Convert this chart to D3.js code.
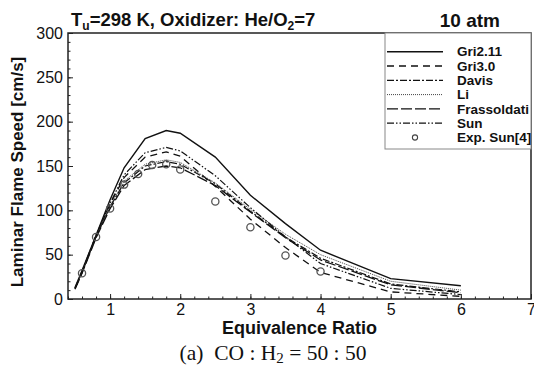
<!DOCTYPE html>
<html>
<head>
<meta charset="utf-8">
<script src="https://cdn.jsdelivr.net/npm/d3@7"></script>
<style>
  body { margin: 0; background: #fff; }
  svg { display: block; font-family: Arial, "Liberation Sans", sans-serif; }
</style>
</head>
<body>
<div id="chart"></div>
<script>
/* DATA */
const phi = [0.5, 0.6, 0.8, 1.0, 1.2, 1.5, 1.8, 2.0, 2.5, 3.0, 3.5, 4.0, 5.0, 6.0];
const gri211 = [13, 32, 72, 112, 148, 181, 190, 187, 160, 117, 85, 55, 23, 15];
const gri30 = [12, 30, 71, 107, 137, 160, 166, 161, 127, 90, 58, 30, 8, 3];
const davis = [12, 30, 70, 104, 131, 150, 155, 152, 130, 99, 70, 46, 17, 8];
const li = [12, 30, 70, 105, 133, 152, 157, 154, 131, 101, 73, 50, 20, 10];
const frassoldati = [11, 29, 69, 102, 128, 146, 150, 148, 128, 98, 69, 44, 16, 7];
const sun = [12, 31, 72, 108, 140, 165, 171, 167, 139, 103, 70, 40, 12, 5];
const expPhi = [0.6, 0.8, 1.0, 1.2, 1.4, 1.6, 1.8, 2.0, 2.5, 3.0, 3.5, 4.0];
const expSun = [29, 70, 102, 129, 141, 151, 152, 146, 110, 81, 49, 31];

const seriesNames = ["Gri2.11", "Gri3.0", "Davis", "Li", "Frassoldati", "Sun"];
const seriesValues = [gri211, gri30, davis, li, frassoldati, sun];
const xTicks = [1, 2, 3, 4, 5, 6, 7];
const yTicks = [0, 50, 100, 150, 200, 250, 300];

// line styles per model
const styles = [
  { dash: null, width: 1.4, color: "#111" },
  { dash: "7,5", width: 1.3, color: "#111" },
  { dash: "7,2,2,2", width: 1.2, color: "#111" },
  { dash: "1,1", width: 1.0, color: "#444" },
  { dash: "11,3", width: 1.3, color: "#111" },
  { dash: "7,2,1.5,2,1.5,2", width: 1.2, color: "#111" }
];

/* CONSTANTS */
const width = 534,
  height = 366,
  margin = { top: 33, right: 3, bottom: 67, left: 68 };

const svg = d3.select("#chart")
  .append("svg")
  .attr("width", width)
  .attr("height", height);

// SCALES
const xScale = d3.scaleLinear()
  .domain([0.4, 7])
  .range([margin.left, width - margin.right]);

const yScale = d3.scaleLinear()
  .domain([0, 300])
  .range([height - margin.bottom, margin.top]);

// AXES (ticks point inward)
const xMinor = d3.range(0.4, 7.01, 0.2).map(d => +d.toFixed(1));
const yMinor = d3.range(0, 301, 10);

svg.append("g")
  .attr("transform", `translate(0, ${height - margin.bottom})`)
  .call(d3.axisBottom(xScale).tickValues(xMinor).tickSize(-2.5).tickFormat(""))
  .call(g => g.select(".domain").remove());

svg.append("g")
  .attr("class", "xAxis")
  .attr("transform", `translate(0, ${height - margin.bottom})`)
  .call(d3.axisBottom(xScale).tickValues(xTicks).tickSize(-5).tickPadding(5).tickFormat(d3.format("d")))
  .call(g => g.select(".domain").remove());

svg.append("g")
  .attr("transform", `translate(${margin.left}, 0)`)
  .call(d3.axisLeft(yScale).tickValues(yMinor).tickSize(-2.5).tickFormat(""))
  .call(g => g.select(".domain").remove());

svg.append("g")
  .attr("class", "yAxis")
  .attr("transform", `translate(${margin.left}, 0)`)
  .call(d3.axisLeft(yScale).tickValues(yTicks).tickSize(-5).tickPadding(5))
  .call(g => g.select(".domain").remove());

svg.selectAll(".xAxis text, .yAxis text")
  .attr("font-size", 16)
  .attr("font-family", "Arial, 'Liberation Sans', sans-serif")
  .attr("fill", "#111");
svg.selectAll(".tick line").attr("stroke", "#222");

// LINES
const line = d3.line()
  .x((d, i) => xScale(phi[i]))
  .y(d => yScale(d));

svg.selectAll(".model")
  .data(seriesValues)
  .join("path")
  .attr("class", "model")
  .attr("fill", "none")
  .attr("d", d => line(d))
  .attr("stroke", (d, i) => styles[i].color)
  .attr("stroke-width", (d, i) => styles[i].width)
  .attr("stroke-dasharray", (d, i) => styles[i].dash);

// EXPERIMENT
svg.selectAll(".exp")
  .data(expSun)
  .join("circle")
  .attr("class", "exp")
  .attr("cx", (d, i) => xScale(expPhi[i]))
  .attr("cy", d => yScale(d))
  .attr("r", 3.6)
  .attr("fill", "none")
  .attr("stroke", "#555")
  .attr("stroke-width", 1.3);

// FRAME
svg.append("rect")
  .attr("x", margin.left)
  .attr("y", margin.top)
  .attr("width", width - margin.left - margin.right)
  .attr("height", height - margin.top - margin.bottom)
  .attr("fill", "none")
  .attr("stroke", "#222")
  .attr("stroke-width", 1.5);

// LEGEND
const legend = svg.append("g");
legend.append("rect")
  .attr("x", 385).attr("y", margin.top)
  .attr("width", width - margin.right - 385).attr("height", 116)
  .attr("fill", "#fff")
  .attr("stroke", "#888")
  .attr("stroke-width", 1);

const legendNames = seriesNames.concat(["Exp. Sun[4]"]);
const rowY = i => 51.7 + i * 14.3;

legend.selectAll(".lg-line")
  .data(seriesNames)
  .join("line")
  .attr("x1", 387).attr("x2", 443)
  .attr("y1", (d, i) => rowY(i)).attr("y2", (d, i) => rowY(i))
  .attr("stroke", (d, i) => styles[i].color)
  .attr("stroke-width", (d, i) => styles[i].width)
  .attr("stroke-dasharray", (d, i) => styles[i].dash);

legend.append("circle")
  .attr("cx", 415).attr("cy", rowY(6))
  .attr("r", 2.6)
  .attr("fill", "none")
  .attr("stroke", "#444")
  .attr("stroke-width", 1.1);

legend.selectAll(".lg-text")
  .data(legendNames)
  .join("text")
  .attr("x", 457)
  .attr("y", (d, i) => rowY(i))
  .attr("dy", "0.35em")
  .attr("font-size", 13.5)
  .attr("font-weight", "bold")
  .attr("fill", "#111")
  .text(d => d);

// TITLES
const title = svg.append("text")
  .attr("x", 71)
  .attr("y", 26)
  .attr("font-size", 18.5)
  .attr("font-weight", "bold")
  .attr("fill", "#111");
title.append("tspan").text("T");
title.append("tspan").attr("font-size", 12).attr("dy", 4).text("u");
title.append("tspan").attr("dy", -4).text("=298 K, Oxidizer: He/O");
title.append("tspan").attr("font-size", 12).attr("dy", 4).text("2");
title.append("tspan").attr("dy", -4).text("=7");

svg.append("text")
  .attr("x", 500)
  .attr("y", 27)
  .attr("text-anchor", "end")
  .attr("font-size", 19)
  .attr("font-weight", "bold")
  .attr("fill", "#111")
  .text("10 atm");

svg.append("text")
  .attr("x", (margin.left + width - margin.right) / 2)
  .attr("y", 334)
  .attr("text-anchor", "middle")
  .attr("font-size", 18)
  .attr("font-weight", "bold")
  .attr("fill", "#111")
  .text("Equivalence Ratio");

svg.append("text")
  .attr("transform", `translate(23, 172) rotate(-90)`)
  .attr("text-anchor", "middle")
  .attr("font-size", 17)
  .attr("font-weight", "bold")
  .attr("fill", "#111")
  .text("Laminar Flame Speed [cm/s]");

const caption = svg.append("text")
  .attr("x", 273)
  .attr("y", 360)
  .attr("text-anchor", "middle")
  .attr("font-family", "'Liberation Serif', 'Times New Roman', serif")
  .attr("font-size", 21.5)
  .attr("fill", "#111")
  .attr("xml:space", "preserve");
caption.append("tspan").text("(a)  CO : H");
caption.append("tspan").attr("font-size", 15).attr("dy", 2.5).text("2");
caption.append("tspan").attr("dy", -2.5).text(" = 50 : 50");
</script>
</body>
</html>
